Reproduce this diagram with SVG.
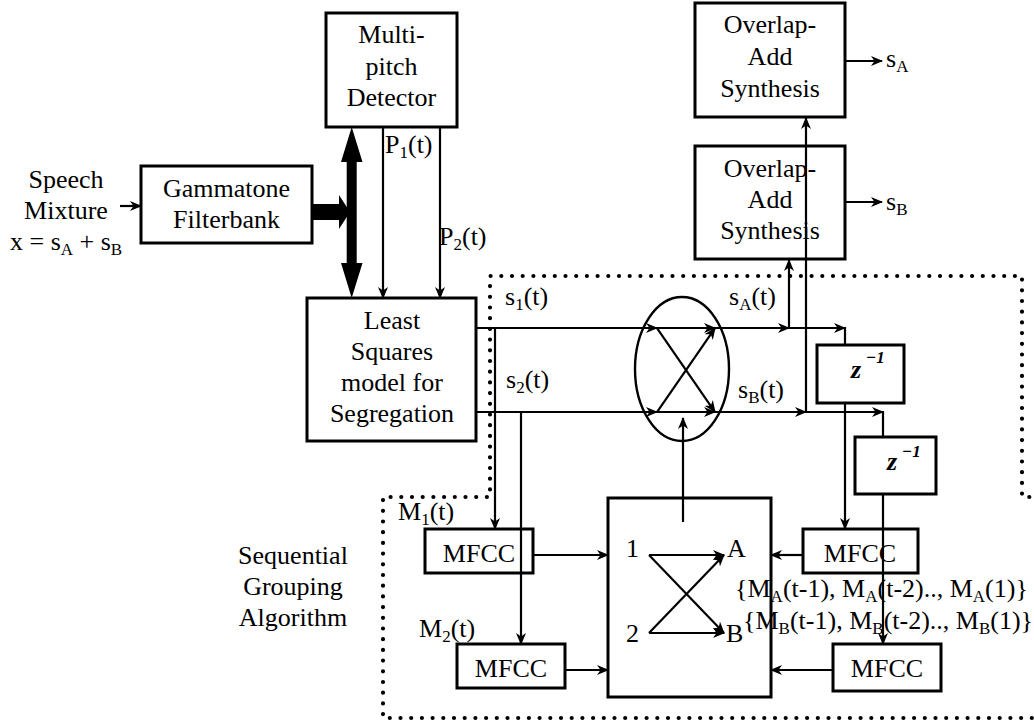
<svg xmlns="http://www.w3.org/2000/svg" width="1034" height="724" viewBox="0 0 1034 724">
<style>
text{font-family:"Liberation Serif","Times New Roman",serif;font-size:26px;fill:#000}
.c{text-anchor:middle}
.box{fill:#fff;stroke:#000;stroke-width:3}
.ln{fill:none;stroke:#000;stroke-width:2.2}
.ar{fill:none;stroke:#000;stroke-width:2.2;marker-end:url(#ah)}
.dot{fill:none;stroke:#000;stroke-width:4.2;stroke-linecap:round;stroke-dasharray:0 10.7}
.sub{font-size:17px}
.zz{font-style:italic;font-weight:bold}
</style>
<defs>
<marker id="ah" viewBox="0 0 12 10" refX="11" refY="5" markerWidth="12" markerHeight="10" markerUnits="userSpaceOnUse" orient="auto">
<path d="M0,0 L12,5 L0,10 L3.5,5 z" fill="#000"/>
</marker>
</defs>

<path class="dot" d="M1040,497 H1022 V276 H490 V497 H383 V718 H1040"/>

<g id="gammatone">
<rect class="box" x="141" y="166" width="171" height="77"/>
<text class="c" x="226.5" y="197">Gammatone</text>
<text class="c" x="226.5" y="228">Filterbank</text>
</g>

<g id="multipitch">
<rect class="box" x="326" y="13" width="131" height="114"/>
<text class="c" x="391.5" y="43">Multi-</text>
<text class="c" x="391.5" y="75">pitch</text>
<text class="c" x="391.5" y="106">Detector</text>
</g>

<g id="leastsquares">
<rect class="box" x="307" y="298" width="169" height="143"/>
<text class="c" x="392" y="329">Least</text>
<text class="c" x="392" y="360">Squares</text>
<text class="c" x="392" y="391">model for</text>
<text class="c" x="392" y="422">Segregation</text>
</g>

<g id="ola1">
<rect class="box" x="695" y="3" width="150" height="114"/>
<text class="c" x="770" y="33">Overlap-</text>
<text class="c" x="770" y="65">Add</text>
<text class="c" x="770" y="97">Synthesis</text>
</g>

<g id="ola2">
<rect class="box" x="695" y="146" width="150" height="113"/>
<text class="c" x="770" y="177">Overlap-</text>
<text class="c" x="770" y="208">Add</text>
<text class="c" x="770" y="239">Synthesis</text>
</g>

<g id="switch">
<ellipse cx="682" cy="369" rx="47" ry="72" fill="none" stroke="#000" stroke-width="2.4"/>
</g>

<g id="zdelay1">
<rect class="box" x="817" y="345" width="87" height="58"/>
<text class="zz" x="851" y="378">z</text>
<text class="zz sub" x="866" y="363">−1</text>
</g>

<g id="zdelay2">
<rect class="box" x="855" y="437" width="81" height="57"/>
<text class="zz" x="887" y="470">z</text>
<text class="zz sub" x="902" y="457">−1</text>
</g>

<g id="grouping">
<rect class="box" x="608" y="498" width="163" height="199"/>
<text x="626" y="557">1</text>
<text x="626" y="642">2</text>
<text x="727" y="557">A</text>
<text x="726" y="642">B</text>
</g>

<g id="mfcc1">
<rect class="box" x="425" y="529" width="108" height="44"/>
<text class="c" x="479" y="562">MFCC</text>
</g>
<g id="mfcc2">
<rect class="box" x="457" y="644" width="108" height="44"/>
<text class="c" x="511" y="677">MFCC</text>
</g>
<g id="mfccA">
<rect class="box" x="803" y="529" width="115" height="44"/>
<text class="c" x="860" y="562">MFCC</text>
</g>
<g id="mfccB">
<rect class="box" x="833" y="644" width="108" height="47"/>
<text class="c" x="887" y="677">MFCC</text>
</g>

<g id="labels">
<text class="c" x="66" y="188">Speech</text>
<text class="c" x="66" y="219">Mixture</text>
<text x="10" y="250">x = s<tspan class="sub" dy="5">A</tspan><tspan dy="-5"> + s</tspan><tspan class="sub" dy="5">B</tspan></text>
<text x="385" y="153">P<tspan class="sub" dy="5">1</tspan><tspan dy="-5">(t)</tspan></text>
<text x="439" y="245">P<tspan class="sub" dy="5">2</tspan><tspan dy="-5">(t)</tspan></text>
<text x="886" y="67">s<tspan class="sub" dy="5">A</tspan></text>
<text x="886" y="210">s<tspan class="sub" dy="5">B</tspan></text>
<text x="505" y="305">s<tspan class="sub" dy="5">1</tspan><tspan dy="-5">(t)</tspan></text>
<text x="506" y="388">s<tspan class="sub" dy="5">2</tspan><tspan dy="-5">(t)</tspan></text>
<text x="729" y="305">s<tspan class="sub" dy="5">A</tspan><tspan dy="-5">(t)</tspan></text>
<text x="738" y="398">s<tspan class="sub" dy="5">B</tspan><tspan dy="-5">(t)</tspan></text>
<text x="398" y="520">M<tspan class="sub" dy="5">1</tspan><tspan dy="-5">(t)</tspan></text>
<text x="419" y="637">M<tspan class="sub" dy="5">2</tspan><tspan dy="-5">(t)</tspan></text>
<text class="c" x="293" y="564">Sequential</text>
<text class="c" x="293" y="595">Grouping</text>
<text class="c" x="293" y="626">Algorithm</text>
<text x="735" y="597">{M<tspan class="sub" dy="5">A</tspan><tspan dy="-5">(t-1), M</tspan><tspan class="sub" dy="5">A</tspan><tspan dy="-5">(t-2).., M</tspan><tspan class="sub" dy="5">A</tspan><tspan dy="-5">(1)}</tspan></text>
<text x="743" y="629">{M<tspan class="sub" dy="5">B</tspan><tspan dy="-5">(t-1), M</tspan><tspan class="sub" dy="5">B</tspan><tspan dy="-5">(t-2).., M</tspan><tspan class="sub" dy="5">B</tspan><tspan dy="-5">(1)}</tspan></text>
</g>

<g id="connectors">
<line class="ar" x1="120" y1="206" x2="141" y2="206"/>
<path d="M312,204 H339 V195 L350,212 L339,229 V220 H312 z" fill="#000"/>
<path d="M351.7,127 L362.5,162 H356.7 V263 H362.5 L351.7,298 L341,263 H346.7 V162 H341 z" fill="#000"/>
<line class="ar" x1="383" y1="127" x2="383" y2="298"/>
<line class="ar" x1="440" y1="127" x2="440" y2="298"/>
<line class="ar" x1="476" y1="328" x2="657" y2="328"/>
<line class="ar" x1="476" y1="412" x2="657" y2="412"/>
<line class="ar" x1="657" y1="328" x2="715" y2="328"/>
<line class="ar" x1="657" y1="328" x2="715" y2="412"/>
<line class="ar" x1="657" y1="412" x2="715" y2="328"/>
<line class="ar" x1="657" y1="412" x2="715" y2="412"/>
<line class="ar" x1="715" y1="328" x2="789" y2="328"/>
<line class="ar" x1="789" y1="328" x2="845" y2="328"/>
<line class="ln" x1="845" y1="327" x2="845" y2="345"/>
<line class="ar" x1="789" y1="328" x2="789" y2="260"/>
<line class="ar" x1="715" y1="412" x2="806" y2="412"/>
<line class="ar" x1="806" y1="412" x2="806" y2="118"/>
<line class="ar" x1="806" y1="412" x2="883" y2="412"/>
<line class="ln" x1="883" y1="411" x2="883" y2="437"/>
<line class="ar" x1="845" y1="403" x2="845" y2="529"/>
<line class="ar" x1="883" y1="494" x2="883" y2="644"/>
<line class="ar" x1="845" y1="61" x2="882" y2="61"/>
<line class="ar" x1="845" y1="202" x2="882" y2="202"/>
<line class="ar" x1="683" y1="522" x2="683" y2="418"/>
<line class="ar" x1="495" y1="328" x2="495" y2="529"/>
<line class="ar" x1="521" y1="412" x2="521" y2="644"/>
<line class="ar" x1="533" y1="555" x2="608" y2="555"/>
<line class="ar" x1="565" y1="670" x2="608" y2="670"/>
<line class="ar" x1="803" y1="555" x2="771" y2="555"/>
<line class="ar" x1="833" y1="670" x2="771" y2="670"/>
<line class="ar" x1="649" y1="555" x2="724" y2="555"/>
<line class="ar" x1="649" y1="555" x2="724" y2="633"/>
<line class="ar" x1="649" y1="633" x2="724" y2="555"/>
<line class="ar" x1="649" y1="633" x2="724" y2="633"/>
</g>
</svg>
